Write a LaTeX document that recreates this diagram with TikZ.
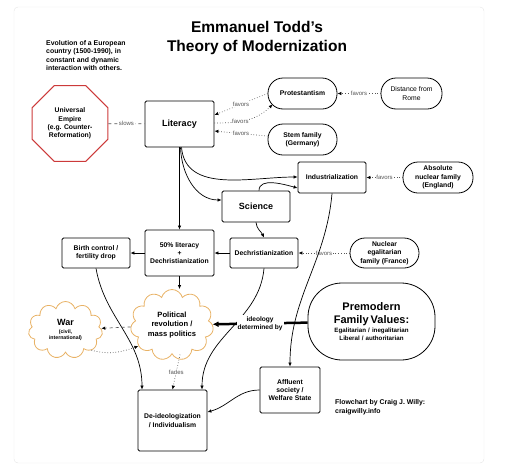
\documentclass[tikz,border=0pt]{standalone}
\usepackage{fontspec}
\setmainfont{Liberation Sans}
\usetikzlibrary{shapes.geometric,shapes.symbols,arrows.meta}

\begin{document}
\begin{tikzpicture}[x=1pt, y=-1pt, font=\bfseries\fontsize{6.8}{8.3}\selectfont]
    \definecolor{frameColour}{HTML}{E4E4E4}
    \definecolor{empireColour}{HTML}{CC3A3A}
    \definecolor{cloudColour}{HTML}{E8B266}
    \definecolor{labelColour}{HTML}{555555}

    \tikzset{
        box/.style={draw, line width=0.8pt, rounded corners=1.5pt, align=center, inner sep=1pt},
        pill/.style={draw, line width=0.8pt, rounded corners=15pt, align=center, inner sep=1pt, minimum height=31pt},
        puff/.style={draw=cloudColour, line width=0.8pt, cloud, cloud puffs=11, cloud ignores aspect, align=center, inner sep=0pt},
        link/.style={line width=0.7pt, -{Latex[length=4pt,width=3.5pt]}},
        hint/.style={link, dotted, draw=labelColour, -{Latex[length=4pt,width=3.5pt,black]}},
        tag/.style={fill=white, inner sep=0.6pt, text=labelColour, font=\fontsize{6}{7}\selectfont},
        bigText/.style={font=\bfseries\fontsize{9}{11}\selectfont}
    }

    \useasboundingbox (0,0) rectangle (510,474);

    % Draw frame
    \draw[frameColour, rounded corners=4pt] (14,7) rectangle (484,463);

    % Title and notes
    \node[align=center, font=\bfseries\fontsize{15.5}{19}\selectfont] (title) at (257,37.5) {Emmanuel Todd's\\Theory of Modernization};
    \node[anchor=north west, align=left, inner sep=0pt, font=\bfseries\fontsize{6.9}{8.5}\selectfont] (intro) at (46,40) {Evolution of a European\\country (1500-1990), in\\constant and dynamic\\interaction with others.};
    \node[anchor=north west, align=left, inner sep=0pt, font=\bfseries\fontsize{6.9}{8.8}\selectfont] (credit) at (335,399.5) {Flowchart by Craig J. Willy:\\craigwilly.info};

    % Top row
    \node[regular polygon, regular polygon sides=8, minimum size=82pt, draw=empireColour, line width=1pt, inner sep=0pt, align=center] (empire) at (70,123.5) {Universal\\Empire\\(e.g. Counter-\\Reformation)};
    \node[box, bigText, minimum width=69pt, minimum height=46pt] (literacy) at (179.5,124) {Literacy};
    \node[pill, minimum width=69pt] (protestant) at (302.5,93.5) {Protestantism};
    \node[pill, minimum width=61pt, font=\fontsize{6.8}{8.3}\selectfont] (rome) at (411.5,93.5) {Distance from\\Rome};
    \node[pill, minimum width=69pt] (stem) at (302.5,139.5) {Stem family\\(Germany)};

    % Middle rows
    \node[box, minimum width=68pt, minimum height=31pt] (industry) at (332,177.5) {Industrialization};
    \node[pill, minimum width=70pt] (england) at (438,177.5) {Absolute\\nuclear family\\(England)};
    \node[box, bigText, minimum width=68pt, minimum height=31pt] (science) at (256,206.5) {Science};
    \node[box, minimum width=68pt, minimum height=30pt] (dechrist) at (264,253) {Dechristianization};
    \node[pill, minimum width=69pt, minimum height=30pt] (france) at (384.5,253) {Nuclear\\egalitarian\\family (France)};
    \node[box, minimum width=69pt, minimum height=46pt] (half) at (179.5,253) {50\% literacy\\+\\Dechristianization};
    \node[box, minimum width=68pt, minimum height=30pt] (birth) at (96,253) {Birth control /\\fertility drop};

    % Lower rows
    \node[puff, minimum width=83pt, minimum height=71pt, font=\bfseries\fontsize{7.6}{9.2}\selectfont] (revolution) at (172,325) {Political\\revolution /\\mass politics};
    \node[puff, minimum width=68pt, minimum height=57pt, text width=50pt, font=\bfseries\fontsize{5.2}{6.3}\selectfont] (war) at (65.5,330) {{\fontsize{9}{11}\selectfont War\par}\vspace{1pt}(civil,\\international)};
    \node[draw, line width=0.8pt, rounded corners=34pt, minimum width=127pt, minimum height=77pt, text width=118pt, align=center, inner sep=1pt, font=\bfseries\fontsize{6.2}{7.7}\selectfont] (values) at (371.5,321.5) {{\fontsize{11}{13}\selectfont Premodern\\Family Values:\par}\vspace{1.5pt}Egalitarian / inegalitarian\\Liberal / authoritarian};
    \node[box, minimum width=60pt, minimum height=46pt] (affluent) at (290,390) {Affluent\\society /\\Welfare State};
    \node[box, minimum width=69pt, minimum height=61pt] (deideo) at (172.5,420.5) {De-ideologization\\/ Individualism};

    % Influences
    \draw[dashed, line width=0.7pt, labelColour] (empire) -- node[tag]{slows} (literacy);
    \draw[hint] (rome) -- node[tag]{favors} (protestant);
    \draw[hint] (protestant.west) -- node[tag]{favors} ([yshift=9pt]literacy.east);
    \draw[hint] ([yshift=1pt]literacy.east) to[out=0, in=225] node[tag, pos=0.4]{favors} ([xshift=5pt,yshift=5pt]protestant.south west);
    \draw[hint] (stem) -- node[tag]{favors} ([yshift=-7pt]literacy.east);
    \draw[hint] (england) -- node[tag]{favors} (industry);
    \draw[hint] (france) -- node[tag]{favors} (dechrist);

    % Main chain
    \draw[link] (literacy) -- (half);
    \draw[link] ([xshift=2pt]literacy.south) to[out=-85, in=180] ([yshift=0.5pt]industry.west);
    \draw[link] ([xshift=1pt]literacy.south) to[out=-88, in=180] ([yshift=6.5pt]science.west);
    \draw[link] ([xshift=3pt]science.north) to[out=90, in=165, looseness=0.9] ([yshift=-10.5pt]industry.west);
    \draw[link] (science.south) to[out=-85, in=115] (dechrist.north);
    \draw[link] (dechrist) -- (half);
    \draw[link] (half) -- (birth);
    \draw[link] (half.south) -- (half.south |- revolution.north);
    \draw[link] (birth.south) to[out=-80, in=90] ([xshift=-30.5pt]deideo.north);
    \draw[link] (dechrist.south) to[out=-95, in=90] ([xshift=29.5pt]deideo.north);
    \draw[link, dotted, labelColour, -{Latex[length=4pt,width=3.5pt,black]}] ([xshift=8pt]revolution.south) -- node[tag]{fades} (deideo.north);
    \draw[link, dashed, labelColour, -{Latex[length=4pt,width=3.5pt,black]}] (revolution) -- (war);
    \draw[hint] (war.-38) to[out=-15, in=200] (revolution.212);
    \draw[line width=2.5pt, -{Latex[length=6pt,width=6pt]}] (values) -- node[fill=white, inner sep=1pt, align=center, font=\bfseries\fontsize{6.6}{8}\selectfont]{ideology\\determined by} (revolution);
    \draw[link] (industry.south) to[out=-95, in=90] (affluent.north);
    \draw[link] (affluent.west) to[out=180, in=15] ([yshift=8.5pt]deideo.east);

\end{tikzpicture}
\end{document}
